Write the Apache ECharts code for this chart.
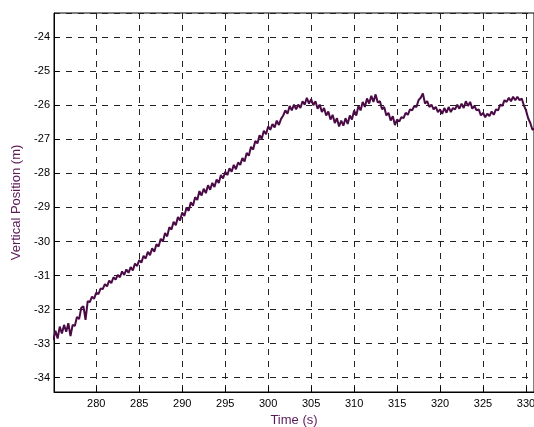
<!DOCTYPE html>
<html>
<head>
<meta charset="utf-8">
<script src="https://cdn.jsdelivr.net/npm/echarts@6/dist/echarts.min.js"></script>
<style>html,body{margin:0;padding:0;background:#fff}#c{width:534px;height:427px}</style>
</head>
<body>
<div id="c"></div>
<script>
const timeS = [
275.00,275.25,275.50,275.75,276.00,276.25,276.50,276.75,277.00,277.25,277.50,277.75,
278.00,278.25,278.50,278.75,279.00,279.25,279.50,279.75,280.00,280.25,280.50,280.75,
281.00,281.25,281.50,281.75,282.00,282.25,282.50,282.75,283.00,283.25,283.50,283.75,
284.00,284.25,284.50,284.75,285.00,285.25,285.50,285.75,286.00,286.25,286.50,286.75,
287.00,287.25,287.50,287.75,288.00,288.25,288.50,288.75,289.00,289.25,289.50,289.75,
290.00,290.25,290.50,290.75,291.00,291.25,291.50,291.75,292.00,292.25,292.50,292.75,
293.00,293.25,293.50,293.75,294.00,294.25,294.50,294.75,295.00,295.25,295.50,295.75,
296.00,296.25,296.50,296.75,297.00,297.25,297.50,297.75,298.00,298.25,298.50,298.75,
299.00,299.25,299.50,299.75,300.00,300.25,300.50,300.75,301.00,301.25,301.50,301.75,
302.00,302.25,302.50,302.75,303.00,303.25,303.50,303.75,304.00,304.25,304.50,304.75,
305.00,305.25,305.50,305.75,306.00,306.25,306.50,306.75,307.00,307.25,307.50,307.75,
308.00,308.25,308.50,308.75,309.00,309.25,309.50,309.75,310.00,310.25,310.50,310.75,
311.00,311.25,311.50,311.75,312.00,312.25,312.50,312.75,313.00,313.25,313.50,313.75,
314.00,314.25,314.50,314.75,315.00,315.25,315.50,315.75,316.00,316.25,316.50,316.75,
317.00,317.25,317.50,317.75,318.00,318.25,318.50,318.75,319.00,319.25,319.50,319.75,
320.00,320.25,320.50,320.75,321.00,321.25,321.50,321.75,322.00,322.25,322.50,322.75,
323.00,323.25,323.50,323.75,324.00,324.25,324.50,324.75,325.00,325.25,325.50,325.75,
326.00,326.25,326.50,326.75,327.00,327.25,327.50,327.75,328.00,328.25,328.50,328.75,
329.00,329.25,329.50,329.75,330.00,330.25,330.50,330.75,331.00
];
const verticalM = [
-32.90,-32.62,-32.85,-32.50,-32.70,-32.45,-32.65,-32.40,-32.78,-32.45,-32.48,-32.22,
-32.28,-31.95,-31.90,-32.30,-31.75,-31.78,-31.62,-31.68,-31.50,-31.55,-31.38,-31.40,
-31.25,-31.32,-31.15,-31.22,-31.05,-31.12,-30.98,-31.05,-30.88,-30.98,-30.82,-30.92,
-30.75,-30.85,-30.65,-30.72,-30.55,-30.62,-30.42,-30.50,-30.30,-30.40,-30.20,-30.30,
-30.08,-30.15,-29.92,-30.00,-29.75,-29.85,-29.58,-29.65,-29.42,-29.52,-29.28,-29.38,
-29.15,-29.25,-29.00,-29.10,-28.85,-28.95,-28.70,-28.78,-28.52,-28.65,-28.45,-28.58,
-28.35,-28.48,-28.28,-28.40,-28.18,-28.28,-28.05,-28.15,-27.95,-28.05,-27.85,-27.95,
-27.75,-27.88,-27.68,-27.75,-27.55,-27.65,-27.40,-27.48,-27.22,-27.30,-27.05,-27.12,
-26.88,-26.98,-26.75,-26.85,-26.62,-26.72,-26.55,-26.65,-26.45,-26.58,-26.40,-26.30,
-26.15,-26.25,-26.02,-26.15,-25.98,-26.12,-25.98,-26.08,-25.88,-25.98,-25.78,-25.95,
-25.82,-26.00,-25.88,-26.10,-25.98,-26.20,-26.08,-26.30,-26.18,-26.42,-26.28,-26.52,
-26.38,-26.62,-26.45,-26.60,-26.38,-26.55,-26.30,-26.42,-26.15,-26.30,-26.02,-26.15,
-25.90,-26.05,-25.80,-25.95,-25.72,-25.90,-25.68,-25.92,-25.88,-26.12,-26.05,-26.30,
-26.22,-26.45,-26.32,-26.58,-26.42,-26.48,-26.35,-26.38,-26.22,-26.28,-26.12,-26.15,
-26.02,-26.05,-25.85,-25.78,-25.65,-25.95,-25.88,-26.05,-25.98,-26.12,-26.05,-26.20,
-26.12,-26.25,-26.08,-26.22,-26.05,-26.20,-26.08,-26.12,-25.98,-26.10,-25.95,-26.08,
-25.88,-26.02,-25.90,-26.10,-26.02,-26.15,-26.12,-26.30,-26.22,-26.35,-26.25,-26.32,
-26.18,-26.28,-26.12,-26.15,-25.98,-26.02,-25.85,-25.90,-25.78,-25.88,-25.75,-25.85,
-25.75,-25.85,-25.80,-26.00,-26.15,-26.38,-26.52,-26.72,-26.68
];
const xTitle = 'Time (s)';
const yTitle = 'Vertical Position (m)';

const chart = echarts.init(document.getElementById('c'), null, {renderer: 'canvas'});
const lineData = timeS.map((t, i) => [t, verticalM[i]]);
const gridDash = {color: '#222', type: [6, 6], width: 1};
chart.setOption({
  animation: false,
  backgroundColor: '#fff',
  grid: {left: 54, top: 13, right: 0, bottom: 35, containLabel: false, outerBoundsMode: 'none',
         show: true, borderColor: '#000', borderWidth: 1, backgroundColor: 'transparent'},
  xAxis: {
    type: 'value', min: 275.08, max: 330.93, minInterval: 5, maxInterval: 5,
    name: xTitle, nameLocation: 'middle', nameGap: 20,
    nameTextStyle: {color: '#5a1a5a', fontFamily: 'Liberation Sans', fontSize: 13},
    axisLine: {show: true, onZero: false, lineStyle: {color: '#000', width: 1}},
    axisTick: {show: true, inside: true, length: 5, lineStyle: {color: '#000'}},
    axisLabel: {color: '#000', fontFamily: 'Liberation Sans', fontSize: 11, margin: 6, showMinLabel: false, showMaxLabel: false},
    splitLine: {show: true, lineStyle: gridDash}
  },
  yAxis: {
    type: 'value', min: -34.42, max: -23.29, minInterval: 1, maxInterval: 1,
    name: yTitle, nameLocation: 'middle', nameGap: 31,
    nameTextStyle: {color: '#5a1a5a', fontFamily: 'Liberation Sans', fontSize: 13},
    axisLine: {show: true, onZero: false, lineStyle: {color: '#000', width: 1}},
    axisTick: {show: true, inside: true, length: 5, lineStyle: {color: '#000'}},
    axisLabel: {color: '#000', fontFamily: 'Liberation Sans', fontSize: 11, margin: 4, showMinLabel: false, showMaxLabel: false},
    splitLine: {show: true, lineStyle: gridDash}
  },
  series: [{
    type: 'line', data: lineData, showSymbol: false, symbol: 'none',
    lineStyle: {color: '#4a0a45', width: 2},
    clip: true
  }]
});
</script>
</body>
</html>
